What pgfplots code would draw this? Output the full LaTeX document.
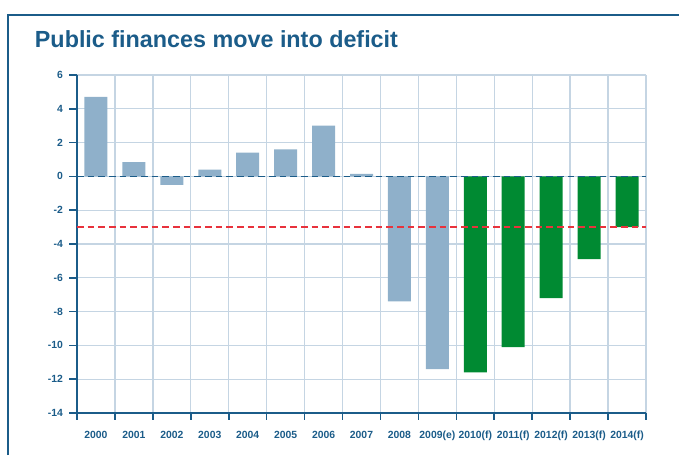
\documentclass[border=0pt]{standalone}
\usepackage{fontspec}
\setmainfont{Liberation Sans}
\usepackage{pgfplots}
\pgfplotsset{compat=1.18}

\definecolor{darkblue}{HTML}{1B5C89}
\definecolor{barblue}{HTML}{8FB0CA}
\definecolor{bargreen}{HTML}{008A32}
\definecolor{gridblue}{HTML}{C5D5E3}
\definecolor{refred}{HTML}{E8323C}

\begin{document}
\begin{tikzpicture}
\path[use as bounding box] (0pt,0pt) rectangle (509.25pt,341.25pt);
% frame
\draw[darkblue, line width=1.6pt] (6pt,0pt) -- (6pt,330pt) -- (509.25pt,330pt);
\node[anchor=base west, inner sep=0pt, text=darkblue, font=\fontsize{17.5}{20}\selectfont\bfseries] at (26pt,306pt) {Public finances move into deficit};

\begin{axis}[
    at={(57.75pt,31.5pt)}, anchor=south west,
    scale only axis,
    width=426.75pt, height=253.5pt,
    xmin=-0.5, xmax=14.5,
    ymin=-14, ymax=6,
    ytick={-14,-12,...,6},
    xtick={0,...,14},
    xticklabels={2000,2001,2002,2003,2004,2005,2006,2007,2008,2009(e),2010(f),2011(f),2012(f),2013(f),2014(f)},
    minor xtick={-0.5,0.5,...,14.5},
    axis x line*=bottom,
    axis y line*=left,
    axis line style={darkblue, line width=1.2pt},
    ymajorgrids, xminorgrids,
    major grid style={gridblue, line width=1pt},
    minor grid style={gridblue, line width=1pt},
    tick align=outside,
    major tick length=6pt,
    minor tick length=5pt,
    every tick/.style={darkblue, line width=1.2pt},
    x tick style={draw=none},
    minor x tick style={draw=darkblue, line width=1.2pt},
    tick label style={font=\fontsize{7.8}{9}\selectfont\bfseries, text=darkblue},
    /pgf/number format/assume math mode=true,
    xticklabel style={yshift=-4pt},
    yticklabel style={xshift=-1pt},
    clip=false,
]
\addplot[ybar, bar width=17.25pt, bar shift=0pt, fill=barblue, draw=none] coordinates {
    (0,4.7) (1,0.85) (2,-0.5) (3,0.4) (4,1.4) (5,1.6) (6,3.0) (7,0.15) (8,-7.4) (9,-11.4)
};
\addplot[ybar, bar width=17.25pt, bar shift=0pt, fill=bargreen, draw=none] coordinates {
    (10,-11.6) (11,-10.1) (12,-7.2) (13,-4.9) (14,-3.0)
};
\addplot[darkblue, line width=1pt, dash pattern=on 5pt off 3pt] coordinates {(-0.5,0) (14.5,0)};
\addplot[refred, line width=1pt, dash pattern=on 5pt off 3pt] coordinates {(-0.5,-3) (14.5,-3)};
\end{axis}
\end{tikzpicture}
\end{document}
